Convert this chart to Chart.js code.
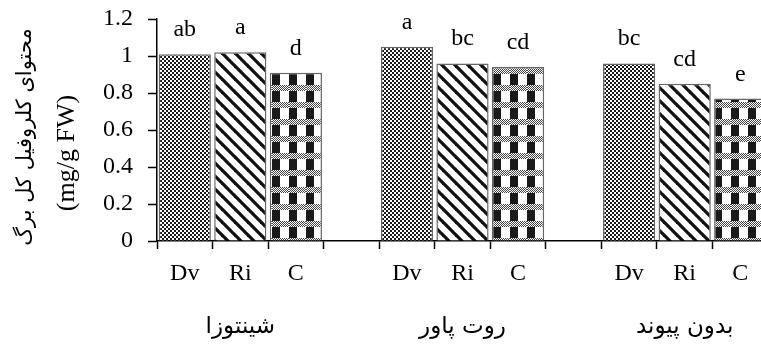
<!DOCTYPE html>
<html>
<head>
<meta charset="utf-8">
<script src="https://cdn.jsdelivr.net/npm/chart.js@4.4.1/dist/chart.umd.min.js"></script>
<style>
  html, body { margin: 0; padding: 0; background: #fff; overflow: hidden; }
  #wrap { width: 761px; height: 345px; overflow: hidden; }
  canvas { display: block; }
</style>
</head>
<body>
<div id="wrap"><canvas id="chart" width="768" height="345"></canvas></div>
<script>
// rootstocks (groups) and treatments
const groups = ['شینتوزا', 'روت پاور', 'بدون پیوند'];
const treatments = ['Dv', 'Ri', 'C'];

// total leaf chlorophyll, one value per group
const dvValues = [1.01, 1.05, 0.96];
const riValues = [1.02, 0.96, 0.85];
const cValues = [0.91, 0.94, 0.77];

// significance letters over the bars
const dvLetters = ['ab', 'a', 'bc'];
const riLetters = ['a', 'bc', 'cd'];
const cLetters = ['d', 'cd', 'e'];

const yTitle = ['محتوای کلروفیل کل برگ', '(mg/g FW)'];

const serif = 'Liberation Serif';

// one slot per bar, an empty slot between groups
const slotLabels = [];
groups.forEach((g, i) => {
  treatments.forEach(t => slotLabels.push(t));
  if (i < groups.length - 1) slotLabels.push('');
});

function buildData(values, t) {
  const arr = slotLabels.map(() => null);
  values.forEach((v, g) => { arr[g * (treatments.length + 1) + t] = v; });
  return arr;
}

// hatch fills
function makePattern(w, h, draw) {
  const c = document.createElement('canvas');
  c.width = w; c.height = h;
  const g = c.getContext('2d');
  g.fillStyle = '#fff';
  g.fillRect(0, 0, w, h);
  draw(g);
  return g.createPattern(c, 'repeat');
}

const checker = makePattern(4, 4, g => {
  g.fillStyle = '#1a1a1a';
  g.fillRect(0, 0, 2, 2);
  g.fillRect(2, 2, 2, 2);
});

const stripes = makePattern(13, 13, g => {
  g.strokeStyle = '#111';
  g.lineWidth = 3.3;
  [-13, 0, 13].forEach(o => {
    g.beginPath();
    g.moveTo(o - 2, -2);
    g.lineTo(o + 15, 15);
    g.stroke();
  });
});

const gingham = makePattern(17, 17, g => {
  g.fillStyle = '#1a1a1a';
  g.fillRect(0, 6, 8, 11);
  g.fillStyle = '#444';
  for (let x = 0; x < 17; x++) {
    for (let y = 0; y < 6; y++) {
      if ((x + y) % 2 === 0) g.fillRect(x, y, 1, 1);
    }
  }
});

const datasets = [
  { label: 'Dv', data: buildData(dvValues, 0), letters: dvLetters, backgroundColor: checker },
  { label: 'Ri', data: buildData(riValues, 1), letters: riLetters, backgroundColor: stripes },
  { label: 'C', data: buildData(cValues, 2), letters: cLetters, backgroundColor: gingham }
].map(d => Object.assign(d, { borderColor: '#666', borderWidth: 1.5 }));

// letters above each bar
const letterPlugin = {
  id: 'letters',
  afterDatasetsDraw(chart) {
    const ctx = chart.ctx;
    ctx.save();
    ctx.fillStyle = '#000';
    ctx.font = '24px "' + serif + '"';
    ctx.textAlign = 'center';
    ctx.textBaseline = 'alphabetic';
    chart.data.datasets.forEach((ds, di) => {
      let n = 0;
      chart.getDatasetMeta(di).data.forEach((bar, i) => {
        if (ds.data[i] === null) return;
        ctx.fillText(ds.letters[n++], bar.x, bar.y - 18);
      });
    });
    ctx.restore();
  }
};

// group names under the tick labels, and the two-font y title
const textPlugin = {
  id: 'extraText',
  afterDraw(chart) {
    const ctx = chart.ctx;
    const xs = chart.scales.x;
    const ys = chart.scales.y;
    const mid = (chart.chartArea.top + chart.chartArea.bottom) / 2;
    ctx.save();
    ctx.fillStyle = '#000';
    ctx.textAlign = 'center';
    ctx.textBaseline = 'middle';
    ctx.font = '23px "DejaVu Sans"';
    groups.forEach((name, g) => {
      const x = xs.getPixelForValue(g * (treatments.length + 1) + 1);
      ctx.fillText(name, x, xs.top + 86);
    });

    ctx.translate(ys.left, mid);
    ctx.rotate(-Math.PI / 2);
    ctx.font = '21px "DejaVu Sans"';
    ctx.fillText(yTitle[0], -7, 26);
    ctx.font = '26px "' + serif + '"';
    ctx.fillText(yTitle[1], -23, 67);
    ctx.restore();
  }
};

new Chart(document.getElementById('chart'), {
  type: 'bar',
  data: { labels: slotLabels, datasets },
  options: {
    responsive: false,
    animation: false,
    layout: { padding: { top: 19, right: 0, bottom: 0, left: 0 } },
    datasets: { bar: { barPercentage: 0.94, categoryPercentage: 1, skipNull: true } },
    plugins: { legend: { display: false }, tooltip: { enabled: false } },
    scales: {
      x: {
        grid: { offset: true, drawOnChartArea: false, tickLength: 8, tickColor: '#000', tickWidth: 1.5 },
        border: { color: '#000', width: 1.5 },
        ticks: { color: '#000', font: { family: serif, size: 24 }, padding: 10, autoSkip: false, maxRotation: 0 },
        afterFit: s => { s.height = 104; }
      },
      y: {
        min: 0,
        max: 1.2,
        grid: { drawOnChartArea: false, tickLength: 9, tickColor: '#000', tickWidth: 1.5 },
        border: { color: '#000', width: 1.5 },
        ticks: {
          stepSize: 0.2,
          color: '#000',
          padding: 15,
          font: { family: serif, size: 24 },
          callback: v => String(+v.toFixed(1))
        },
        title: { display: false },
        afterFit: s => {
          s.width = 157;
          s.paddingTop = 0;
          s.paddingBottom = 0;
        }
      }
    }
  },
  plugins: [letterPlugin, textPlugin]
});
</script>
</body>
</html>
